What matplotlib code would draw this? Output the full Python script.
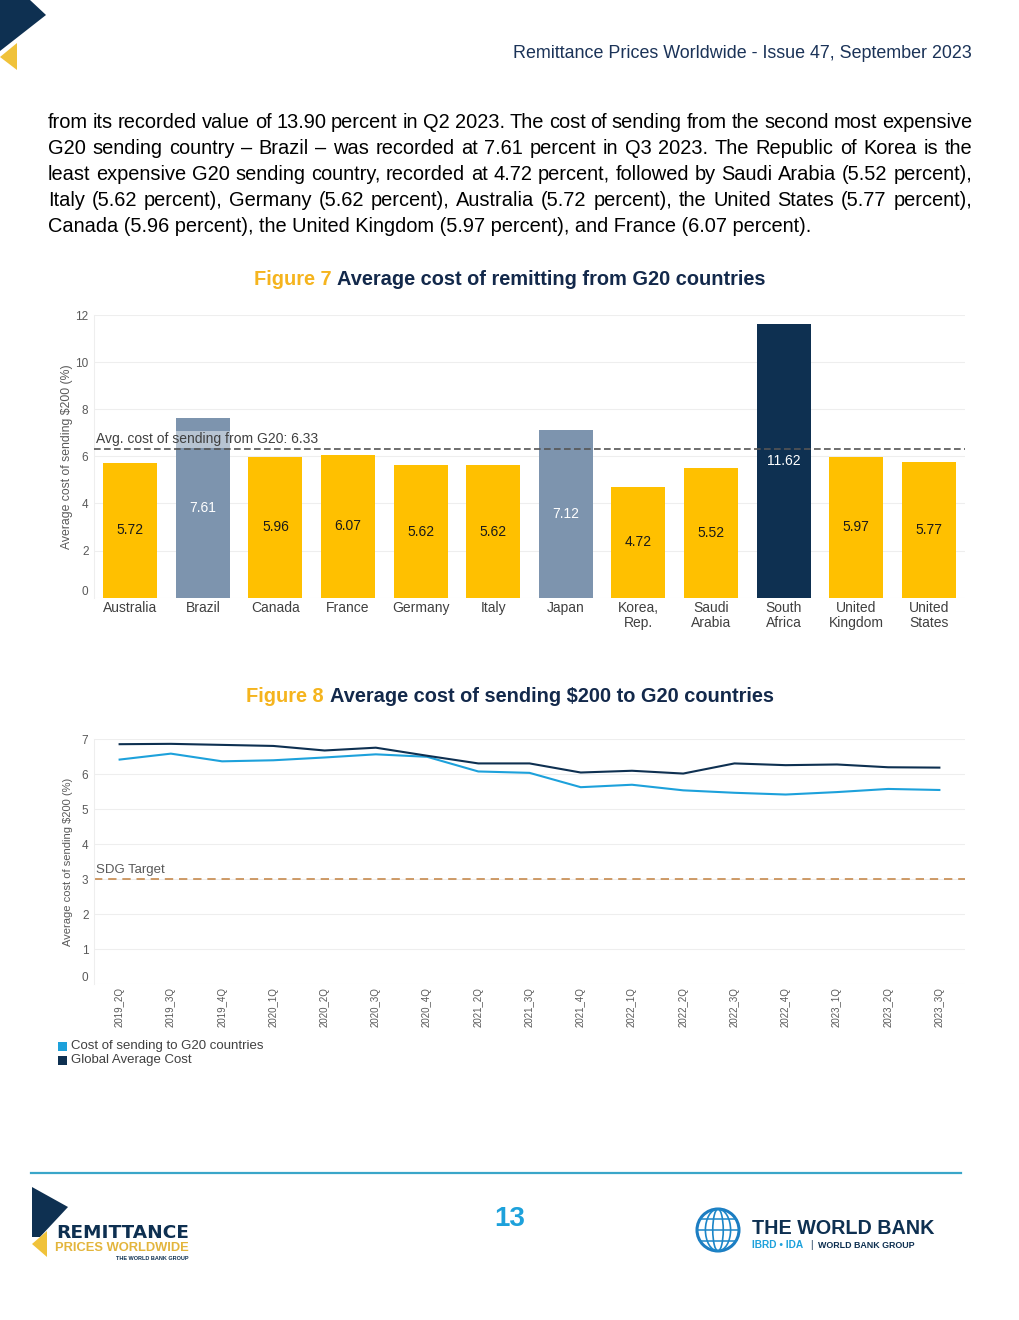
import numpy as np
import matplotlib.pyplot as plt
from matplotlib.patches import Polygon, Rectangle, Circle, Ellipse

plt.rcParams['font.family'] = ['Liberation Sans', 'DejaVu Sans']

# Figure 7 data
countries = ['Australia', 'Brazil', 'Canada', 'France', 'Germany', 'Italy', 'Japan',
             'Korea,\nRep.', 'Saudi\nArabia', 'South\nAfrica', 'United\nKingdom', 'United\nStates']
cost_from_g20 = [5.72, 7.61, 5.96, 6.07, 5.62, 5.62, 7.12, 4.72, 5.52, 11.62, 5.97, 5.77]
avg_g20 = 6.33

# Figure 8 data
quarters = ['2019_2Q', '2019_3Q', '2019_4Q', '2020_1Q', '2020_2Q', '2020_3Q', '2020_4Q',
            '2021_2Q', '2021_3Q', '2021_4Q', '2022_1Q', '2022_2Q', '2022_3Q', '2022_4Q',
            '2023_1Q', '2023_2Q', '2023_3Q']
cost_to_g20 = [6.42, 6.59, 6.37, 6.40, 6.48, 6.57, 6.50, 6.08, 6.04, 5.63, 5.70, 5.54,
               5.47, 5.42, 5.49, 5.58, 5.55]
global_avg = [6.86, 6.87, 6.84, 6.81, 6.68, 6.76, 6.53, 6.31, 6.31, 6.05, 6.10, 6.02,
              6.31, 6.26, 6.28, 6.20, 6.19]
sdg_target = 3

header = 'Remittance Prices Worldwide - Issue 47, September 2023'
paragraph = [
    'from its recorded value of 13.90 percent in Q2 2023. The cost of sending from the second most expensive',
    'G20 sending country \u2013 Brazil \u2013 was recorded at 7.61 percent in Q3 2023. The Republic of Korea is the',
    'least expensive G20 sending country, recorded at 4.72 percent, followed by Saudi Arabia (5.52 percent),',
    'Italy (5.62 percent), Germany (5.62 percent), Australia (5.72 percent), the United States (5.77 percent),',
    'Canada (5.96 percent), the United Kingdom (5.97 percent), and France (6.07 percent).',
]

NAVY = '#13294B'
GOLD = '#F5B41E'
YELLOW = '#FFC000'
STEEL = '#7D94AE'
DARK = '#0E3051'
SKY = '#1DA1DB'
GREY = '#595959'

fig = plt.figure(figsize=(10.2, 13.2), dpi=100)
page = fig.add_axes([0, 0, 1, 1])
page.set_xlim(0, 1020)
page.set_ylim(1320, 0)
page.axis('off')
renderer = fig.canvas.get_renderer()


def width_of(t):
    return t.get_window_extent(renderer).width


# header + corner logo
page.add_patch(Polygon([(0, 0), (30, 0), (46, 15), (0, 51)], color=DARK, lw=0))
page.add_patch(Polygon([(0, 57), (17, 43), (17, 70)], color='#F0C23A', lw=0))
page.text(972, 58, header, ha='right', va='baseline', fontsize=12.9, color='#1B3358')

# justified paragraph
x0, x1 = 48, 972
for i, line in enumerate(paragraph):
    y = 127.5 + i * 26.2
    if i == len(paragraph) - 1:
        page.text(x0, y, line, va='baseline', fontsize=14.4, color='black')
        continue
    words = line.split(' ')
    txts = [page.text(0, y, w, va='baseline', fontsize=14.4, color='black') for w in words]
    ws = [width_of(t) for t in txts]
    gap = (x1 - x0 - sum(ws)) / (len(words) - 1)
    x = x0
    for t, w in zip(txts, ws):
        t.set_x(x)
        x += w + gap


def title(num, rest, y):
    a = page.text(0, y, num, fontsize=14.4, fontweight='bold', color=GOLD, va='center')
    b = page.text(0, y, rest, fontsize=14.4, fontweight='bold', color=NAVY, va='center')
    wa, wb = width_of(a), width_of(b)
    sp = 5.5
    left = 510 - (wa + sp + wb) / 2
    a.set_x(left)
    b.set_x(left + wa + sp)


title('Figure 7', 'Average cost of remitting from G20 countries', 279.5)
title('Figure 8', 'Average cost of sending $200 to G20 countries', 696.5)


def style(ax):
    ax.set_facecolor('none')
    for s in ['top', 'right', 'bottom']:
        ax.spines[s].set_visible(False)
    ax.spines['left'].set_color('#EEEEEE')
    ax.grid(axis='y', color='#EEEEEE', lw=0.8)
    ax.set_axisbelow(True)
    ax.tick_params(length=0, labelsize=8.5, labelcolor=GREY, pad=4)


# Figure 7: bar chart
ax1 = fig.add_axes([94 / 1020, 1 - 597.7 / 1320, 871 / 1020, 282.7 / 1320])
style(ax1)
x = np.arange(len(countries))
vmax = max(cost_from_g20)
colors = [DARK if v == vmax else STEEL if v > avg_g20 else YELLOW for v in cost_from_g20]
ax1.bar(x, cost_from_g20, width=0.745, color=colors, zorder=2)
for i, v in enumerate(cost_from_g20):
    ax1.text(i, v / 2, f'{v:.2f}', ha='center', va='center', fontsize=10,
             color='#1A1A1A' if colors[i] == YELLOW else 'white', zorder=3)
ax1.axhline(avg_g20, color='#555555', ls=(0, (4, 2)), lw=1.2, zorder=3)
ax1.text(-0.47, avg_g20 + 0.1, f'Avg. cost of sending from G20: {avg_g20:.2f}', ha='left', va='bottom',
         fontsize=10, color='#404040', zorder=4,
         bbox=dict(facecolor='white', alpha=0.45, edgecolor='none', pad=1))
ax1.set_xlim(-0.5, 11.5)
ax1.set_ylim(0, 12)
ax1.set_yticks(range(0, 13, 2))
ax1.set_xticks(x, countries, fontsize=10, color='#404040', linespacing=1.1)
ax1.tick_params(axis='x', pad=2.5)
ax1.yaxis.get_major_ticks()[0].label1.set_va('bottom')
ax1.set_ylabel('Average cost of sending $200 (%)', fontsize=8.8, color=GREY, labelpad=1.5)

# Figure 8: line chart
ax2 = fig.add_axes([94 / 1020, 1 - 984 / 1320, 871 / 1020, 244.7 / 1320])
style(ax2)
xq = np.arange(len(quarters))
ax2.plot(xq, cost_to_g20, color=SKY, lw=1.5, zorder=3)
ax2.plot(xq, global_avg, color=DARK, lw=1.5, zorder=3)
ax2.axhline(sdg_target, color='#C68A4E', ls=(0, (5, 3.5)), lw=1.2, zorder=2)
ax2.text(-0.47, sdg_target + 0.08, 'SDG Target', ha='left', va='bottom', fontsize=9.5, color=GREY)
ax2.set_xlim(-0.5, 16.5)
ax2.set_ylim(0, 7)
ax2.set_yticks(range(0, 8))
ax2.set_xticks(xq, quarters, rotation=90, fontsize=7, color=GREY)
ax2.tick_params(axis='x', pad=2.5)
ax2.yaxis.get_major_ticks()[0].label1.set_va('bottom')
ax2.set_ylabel('Average cost of sending $200 (%)', fontsize=8, color=GREY, labelpad=6)

# legend under figure 8
page.add_patch(Rectangle((58, 1042), 9, 9, color=SKY, lw=0))
page.text(71, 1046, 'Cost of sending to G20 countries', va='center', fontsize=9.5, color='#404040')
page.add_patch(Rectangle((58, 1056), 9, 9, color=DARK, lw=0))
page.text(71, 1060, 'Global Average Cost', va='center', fontsize=9.5, color='#404040')

# footer
page.plot([31, 961], [1173, 1173], color='#3AA6C9', lw=1.6)
page.text(510, 1219, '13', ha='center', va='center', fontsize=20, fontweight='bold', color=SKY)

page.add_patch(Polygon([(32, 1187), (68, 1207), (40, 1237), (32, 1237)], color=DARK, lw=0))
page.add_patch(Polygon([(32, 1244), (47, 1231), (47, 1257)], color='#F0C23A', lw=0))
page.text(56, 1233, 'REMITTANCE', va='center', ha='left', fontsize=13.3, fontweight='bold',
          color=DARK, family='DejaVu Sans')
page.text(55, 1248, 'PRICES WORLDWIDE', va='center', ha='left', fontsize=9.3, fontweight='bold',
          color='#E3B53C')
page.text(189, 1258, 'THE WORLD BANK GROUP', va='center', ha='right', fontsize=4, fontweight='bold',
          color=DARK)

gx, gy, gr = 718, 1230, 21
page.add_patch(Circle((gx, gy), gr, fill=False, lw=2.2, color='#1C7DC2'))
for w in [0.25, 0.6]:
    page.add_patch(Ellipse((gx, gy), 2 * gr * w, 2 * gr, fill=False, lw=1.2, color='#1C86C8'))
for dy in [-11, 0, 11]:
    half = np.sqrt(gr ** 2 - dy ** 2)
    page.plot([gx - half, gx + half], [gy + dy, gy + dy], color='#1C86C8', lw=1.1)
page.text(752, 1228, 'THE WORLD BANK', va='center', ha='left', fontsize=14.2, fontweight='bold', color=DARK)
page.text(752, 1245, 'IBRD \u2022 IDA', va='center', ha='left', fontsize=7.3, fontweight='bold', color=SKY)
page.text(810, 1245, '|', va='center', ha='left', fontsize=7, color=DARK)
page.text(818, 1245, 'WORLD BANK GROUP', va='center', ha='left', fontsize=6.4, fontweight='bold', color=DARK)

fig.savefig('out.png', dpi=100)
